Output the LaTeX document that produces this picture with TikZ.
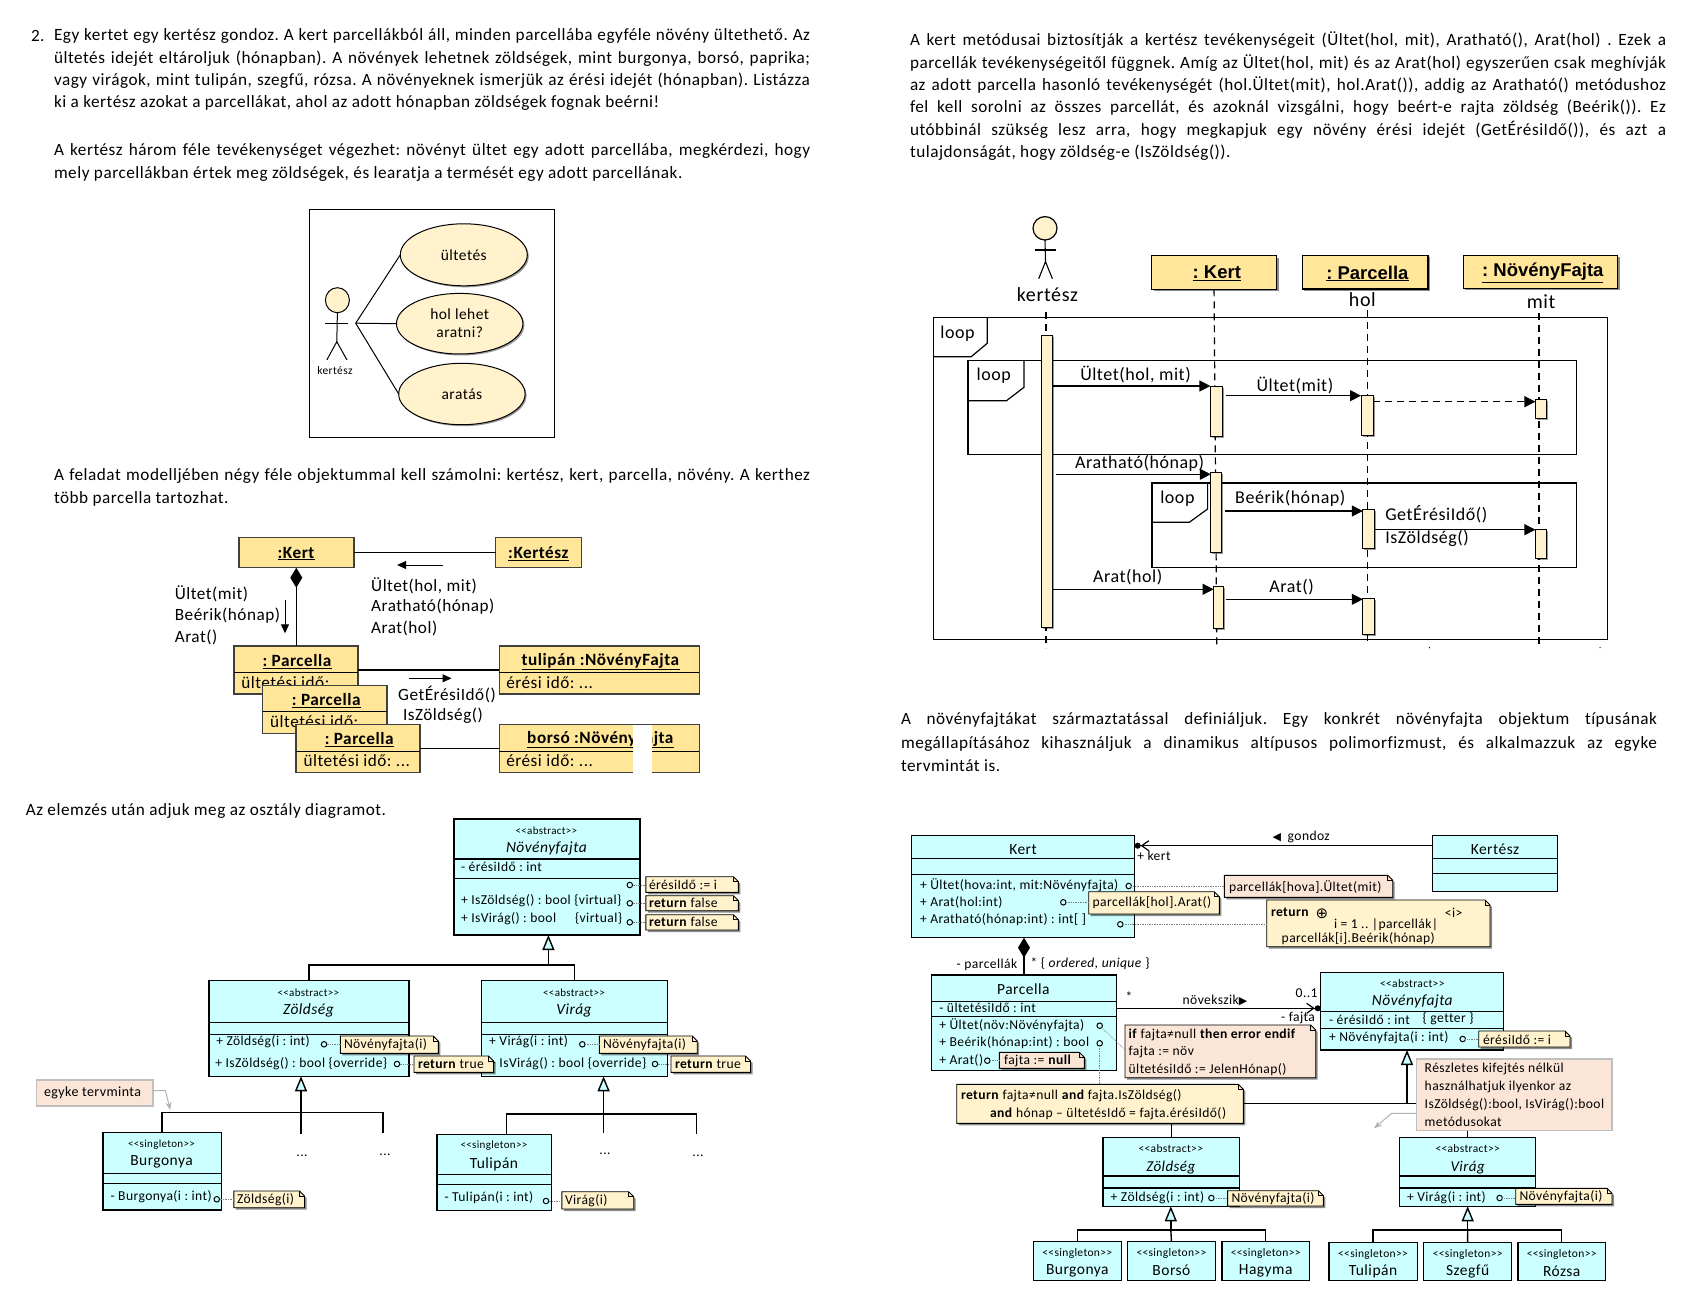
\documentclass[tikz,border=0pt]{standalone}
\usepackage{fontspec}
\setmainfont[LetterSpace=3,Ligatures=NoCommon]{Carlito}
\newfontfamily\djv{DejaVu Sans}
\newfontfamily\libs{Liberation Sans}
\frenchspacing
\usetikzlibrary{arrows.meta,shadows,shapes.geometric,calc}
\definecolor{cyanb}{HTML}{CCFFFF}
\definecolor{yel}{HTML}{FFF2CC}
\definecolor{objy}{HTML}{FFE699}
\definecolor{peach}{HTML}{FBE5D6}
\definecolor{barc}{HTML}{FFF2CC}
\newcommand\fs[1]{\fontsize{#1}{#1}\selectfont}
\newcommand\bodyfs{\fs{17.2}}
\newcommand\abstr{<{}<abstract>{}>}
\newcommand\singl{<{}<singleton>{}>}
\newcounter{tc}
\newcommand\T[4][]{\stepcounter{tc}\node[txt,anchor=west,#1] (t\thetc) at (#2,#3) {#4};}
\newcommand\C[4][]{\stepcounter{tc}\node[txt,anchor=center,#1] (t\thetc) at (#2,#3) {#4};}
\newcommand\J[4]{\stepcounter{tc}\node[txt,anchor=west,bdy] (t\thetc) at (#1,#2) {\hbox to #3pt{\spaceskip=.22em plus 1em minus .1em #4}};}
\newcommand\bx[6][cls]{\node[#1,anchor=north west,minimum width={(#4-#2)*1pt},minimum height={(#5-#3)*1pt}] (#6) at (#2,#3) {};}
\newcommand\dv[2]{\coordinate (dvtmp) at (0,#2);\draw[dvl] (#1.west |- dvtmp) -- (#1.east |- dvtmp);}
\newcommand\note[6][yel]{\path[notep,fill=#1] (#2,#3) -- (#4-5,#3) -- (#4,#3+5) -- (#4,#5) -- (#2,#5) -- cycle;
 \draw[line width=.8pt] (#4-5,#3) -- (#4-5,#3+5) -- (#4,#3+5);
 \node[inner sep=0,outer sep=0,anchor=north west,minimum width={(#4-#2)*1pt},minimum height={(#5-#3)*1pt}] (#6) at (#2,#3) {};}
\newcommand\lol[3]{\node[lolli] (#1) at (#2,#3) {};}
\newcommand\cn[2]{\draw[dotl] (#1) -- (#1 -| #2.west);}
\newcommand\msg[4][]{\coordinate (mtmp) at (0,#4);\draw[msgl,#1] (#2.east |- mtmp) -- (#3.west |- mtmp);}
\tikzset{
 txt/.style={inner sep=0,outer sep=0},
 bdy/.style={font=\bodyfs,yshift=-1pt},
 cls/.style={draw,line width=1.4pt,fill=cyanb,inner sep=0,outer sep=0},
 obj/.style={draw=black!75,line width=1.4pt,fill=objy,inner sep=0,outer sep=0},
 seqb/.style={draw,line width=1.2pt,fill=objy,inner sep=0,outer sep=0,drop shadow={shadow xshift=2pt,shadow yshift=-2pt,opacity=.45,fill=black}},
 bar/.style={draw,line width=1pt,fill=barc,inner sep=0,outer sep=0,drop shadow={shadow xshift=1.5pt,shadow yshift=-1.5pt,opacity=.4,fill=black}},
 frm/.style={draw,line width=1.2pt,inner sep=0,outer sep=0},
 dvl/.style={line width=1.3pt},
 notep/.style={draw,line width=.9pt,drop shadow={shadow xshift=2pt,shadow yshift=-2pt,opacity=.45,fill=black}},
 lolli/.style={circle,draw,line width=1pt,inner sep=0,outer sep=0,minimum size=5.5pt},
 dotl/.style={gray,densely dotted,line width=.7pt},
 ln/.style={line width=1.4pt},
 gen/.style={line width=1.4pt,-{Triangle[open,fill=cyanb,length=15pt,width=12pt]}},
 dia/.style={line width=1.4pt,{Diamond[length=20pt,width=12pt]}-},
 nav/.style={line width=1.2pt,-{Straight Barb[length=7pt,width=10pt,sep=0pt] Circle[length=6pt]}},
 msgl/.style={line width=1.2pt,-{Triangle[length=11pt,width=11pt]}},
 life/.style={line width=1.2pt,dash pattern=on 7pt off 5pt},
 grayar/.style={draw=black!30,line width=1pt,-{Stealth[length=8pt,width=6pt]}},
 simplea/.style={line width=1pt,-{Triangle[length=9pt,width=8pt]}},
 uce/.style={ellipse,draw,line width=1pt,fill=barc,inner sep=0,outer sep=0,drop shadow={shadow xshift=1.5pt,shadow yshift=-1.5pt,opacity=.4,fill=black}},
}
\begin{document}
\begin{tikzpicture}[x=1pt,y=-1pt,line join=miter]
\useasboundingbox (0,0) rectangle (1708,1313);
\fill[white] (0,0) rectangle (1708,1313);
% ---- left text
\T[bdy]{31}{35}{2.}
\J{54}{35}{756}{Egy kertet egy kertész gondoz. A kert parcellákból áll, minden parcellába egyféle növény ültethető. Az}
\J{54}{57.2}{756}{ültetés idejét eltároljuk (hónapban). A növények lehetnek zöldségek, mint burgonya, borsó, paprika;}
\J{54}{80}{756}{vagy virágok, mint tulipán, szegfű, rózsa. A növényeknek ismerjük az érési idejét (hónapban). Listázza}
\T[bdy]{54}{101.7}{ki a kertész azokat a parcellákat, ahol az adott hónapban zöldségek fognak beérni!}
\J{54}{150}{756}{A kertész három féle tevékenységet végezhet: növényt ültet egy adott parcellába, megkérdezi, hogy}
\T[bdy]{54}{172.7}{mely parcellákban értek meg zöldségek, és learatja a termését egy adott parcellának.}
\J{54}{475}{756}{A feladat modelljében négy féle objektummal kell számolni: kertész, kert, parcella, növény. A kerthez}
\T[bdy]{54}{498}{több parcella tartozhat.}
\T[bdy]{25.8}{810}{Az elemzés után adjuk meg az osztály diagramot.}
% ---- right text
\J{910}{39}{756}{A kert metódusai biztosítják a kertész tevékenységeit (Ültet(hol, mit), Aratható(), Arat(hol) . Ezek a}
\J{910}{62}{756}{parcellák tevékenységeitől függnek. Amíg az Ültet(hol, mit) és az Arat(hol) egyszerűen csak meghívják}
\J{910}{84.3}{756}{az adott parcella hasonló tevékenységét (hol.Ültet(mit), hol.Arat()), addig az Aratható() metódushoz}
\J{910}{107}{756}{fel kell sorolni az összes parcellát, és azoknál vizsgálni, hogy beért-e rajta zöldség (Beérik()). Ez}
\J{910}{129.3}{756}{utóbbinál szükség lesz arra, hogy megkapjuk egy növény érési idejét (GetÉrésiIdő()), és azt a}
\T[bdy]{910}{151.5}{tulajdonságát, hogy zöldség-e (IsZöldség()).}
\J{901}{719.5}{756}{A növényfajtákat származtatással definiáljuk. Egy konkrét növényfajta objektum típusának}
\J{901}{743}{756}{megállapításához kihasználjuk a dinamikus altípusos polimorfizmust, és alkalmazzuk az egyke}
\T[bdy]{901}{764.7}{tervmintát is.}
% ---- use case
\node[draw,line width=1pt,inner sep=0,outer sep=0,anchor=north west,minimum width=245.1pt,minimum height=228pt] (ucframe) at (309.4,209.3) {};
\coordinate (uchub) at (355.7,323.2);
\node[uce,minimum width=127pt,minimum height=62pt] (uc1) at (463.8,254.8) {};
\node[uce,minimum width=126.4pt,minimum height=60.6pt] (uc2) at (459.7,323.7) {};
\node[uce,minimum width=126.4pt,minimum height=61.4pt] (uc3) at (461.9,394) {};
\draw[line width=1pt] (uchub) -- (uc1.west);
\draw[line width=1pt] (uchub) -- (uc2.west);
\draw[line width=1pt] (uchub) -- (uc3.west);
\C[font=\fs{15.5}]{463.8}{255}{ültetés}
\C[font=\fs{15.5},align=center]{459.7}{323}{hol lehet\\[3pt]aratni?}
\C[font=\fs{15.5}]{461.9}{394}{aratás}
\node[ellipse,draw,line width=1pt,fill=barc,minimum width=24pt,minimum height=25pt,inner sep=0,outer sep=0] (ua) at (337.4,300.2) {};
\coordinate (uab) at (336.8,341.7);
\draw[line width=1pt] (ua.south) -- (uab);
\coordinate (ua1) at (325,323.3);\coordinate (ua2) at (347.5,323.3);
\draw[line width=1pt] (ua1) -- (ua2);
\coordinate (ua3) at (326.8,360);\coordinate (ua4) at (347,360);
\draw[line width=1pt] (ua3) -- (uab) -- (ua4);
\C[font=\fs{11.5}]{335}{371}{kertész}
% ---- object diagram
\begin{scope}[txt/.append style={font=\fs{17.2}}]
\bx[obj]{238.8}{537.7}{353.8}{567.7}{okert}
\bx[obj]{495.5}{537.7}{581.7}{567.7}{okertesz}
\draw[ln] (okert) -- (okertesz);
\C{296.3}{553.5}{\underline{\textbf{:Kert}}}
\C{538.6}{553.5}{\underline{\textbf{:Kertész}}}
\coordinate (oa1) at (443.4,565);\coordinate (oa2) at (397.1,565);
\draw[simplea] (oa1) -- (oa2);
\T{371.2}{585.3}{Ültet(hol, mit)}
\T{371.2}{607}{Aratható(hónap)}
\T{371.2}{628.3}{Arat(hol)}
\T{174.8}{594}{Ültet(mit)}
\T{174.8}{615.7}{Beérik(hónap)}
\T{174.8}{637.3}{Arat()}
\coordinate (oa3) at (285,600);\coordinate (oa4) at (285,633.3);
\draw[simplea] (oa3) -- (oa4);
\bx[obj]{234}{646}{357.9}{694}{op1}
\draw[dia] (okert.south) -- (okert.south |- op1.north);
\dv{op1}{672.7}
\C{297.2}{661.5}{\underline{\textbf{: Parcella}}}
\T{241.4}{682.3}{ültetési idő: ...}
\bx[obj]{262.5}{685.3}{387.1}{733.3}{op2}
\dv{op2}{711.7}
\C{326.5}{700.5}{\underline{\textbf{: Parcella}}}
\T{270.2}{721.7}{ültetési idő: ...}
\bx[obj]{296.1}{724.7}{420}{772.3}{op3}
\dv{op3}{751.3}
\C{359.4}{739.8}{\underline{\textbf{: Parcella}}}
\T{303.5}{760.7}{ültetési idő: ...}
\bx[obj]{499.2}{646}{699.4}{694}{otul}
\dv{otul}{672.7}
\C{600.6}{661.5}{\underline{\textbf{tulipán :NövényFajta}}}
\T{506.3}{682.7}{érési idő: ...}
\bx[obj]{499.2}{724.7}{699.4}{772.7}{obor}
\dv{obor}{751.7}
\C{600.6}{739.8}{\underline{\textbf{borsó :NövényFajta}}}
\T{506.3}{760.7}{érési idő: ...}
\coordinate (ol1) at (0,670);\coordinate (ol2) at (0,748.3);
\draw[ln] (op1.east |- ol1) -- (otul.west |- ol1);
\draw[ln] (op3.east |- ol2) -- (obor.west |- ol2);
\coordinate (oa5) at (409,678.3);\coordinate (oa6) at (451.5,678.3);
\draw[simplea] (oa5) -- (oa6);
\T{398.2}{694.3}{GetÉrésiIdő()}
\T{403}{716}{IsZöldség()}
\node[fill=white,inner sep=0,outer sep=0,anchor=north west,minimum width=19.2pt,minimum height=49pt] (owhite) at (633.2,724.7) {};
\end{scope}
% ---- left class diagram
\begin{scope}[txt/.append style={font=\fs{13.6}}]
\bx{453.8}{819}{640}{935}{ln}
\dv{ln}{859}\dv{ln}{878.3}
\C[font=\fs{11}]{546.4}{830.7}{\abstr}
\C[font=\fs{15.5}\itshape]{546.4}{848.3}{Növényfajta}
\T{461}{867.3}{- érésiIdő : int}
\T{461}{901}{+ IsZöldség() : bool \{virtual\}}
\T{461}{919}{+ IsVirág() : bool}
\T{575}{919}{\{virtual\}}
\lol{lc1}{629.8}{885}\lol{lc2}{629.8}{903.3}\lol{lc3}{629.8}{922.3}
\note{645.8}{876.7}{738.4}{892.3}{ln1}
\note{645.8}{895.7}{738.4}{910.7}{ln2}
\note{645.8}{914.7}{738.4}{930}{ln3}
\cn{lc1}{ln1}\cn{lc2}{ln2}\cn{lc3}{ln3}
\T{649}{885}{érésiIdő := i}
\T{649}{903.3}{\textbf{return} false}
\T{649}{922.3}{\textbf{return} false}
\bx{209}{980.7}{408.8}{1076.3}{lz}
\dv{lz}{1022.7}\dv{lz}{1034.3}
\C[font=\fs{11}]{308.4}{992.3}{\abstr}
\C[font=\fs{15.5}\itshape]{308.4}{1010.7}{Zöldség}
\T{216.3}{1041.7}{+ Zöldség(i : int)}
\T{215.3}{1064}{+ IsZöldség() : bool \{override\}}
\lol{lc4}{324}{1044.3}\lol{lc5}{397}{1064}
\bx{481.5}{980.7}{667.6}{1076.3}{lv}
\dv{lv}{1022.7}\dv{lv}{1034.3}
\C[font=\fs{11}]{574}{992.3}{\abstr}
\C[font=\fs{15.5}\itshape]{574}{1010.7}{Virág}
\T{489.2}{1041.7}{+ Virág(i : int)}
\T{489.2}{1064}{+ IsVirág() : bool \{override\}}
\lol{lc6}{582.3}{1044.3}\lol{lc7}{655}{1064}
\coordinate (lj1) at (548.4,965);
\draw[ln] (lz.north) |- (lj1) -| (lv.north);
\draw[gen] (lj1) -- (lj1 |- ln.south);
\note{340.4}{1036}{438.3}{1053.3}{ln4}
\note{414}{1056}{493.6}{1072.3}{ln5}
\note{599.3}{1036}{697.2}{1053.3}{ln6}
\note{671}{1056}{750.5}{1072.3}{ln7}
\cn{lc4}{ln4}\cn{lc5}{ln5}\cn{lc6}{ln6}\cn{lc7}{ln7}
\T{344}{1045}{Növényfajta(i)}
\T{418}{1064.5}{\textbf{return} true}
\T{603}{1045}{Növényfajta(i)}
\T{675}{1064.5}{\textbf{return} true}
% singleton branch left
\bx{102.9}{1132.7}{221.2}{1210}{lb}
\dv{lb}{1173.3}\dv{lb}{1183.3}
\C[font=\fs{11}]{161.5}{1145}{\singl}
\C[font=\fs{15.5}]{161.5}{1162.3}{Burgonya}
\T{110.6}{1196.7}{- Burgonya(i : int)}
\lol{lc8}{216.8}{1199.3}
\note{233.8}{1191}{304.5}{1207.7}{ln8}
\cn{lc8}{ln8}
\T{237}{1199.5}{Zöldség(i)}
\coordinate (lj2) at (301,1112.3);
\coordinate (lz1) at (301,1134);\coordinate (lz2) at (383,1132.7);
\draw[ln] (lb.north) |- (lj2) -| (lz2);
\draw[ln] (lj2) -- (lz1);
\draw[gen] (lj2) -- (lj2 |- lz.south);
\C{302}{1156}{...}
\C{385}{1154.5}{...}
\bx{436.9}{1134.3}{551.3}{1210.7}{lt}
\dv{lt}{1174.7}\dv{lt}{1184.3}
\C[font=\fs{11}]{494}{1145.7}{\singl}
\C[font=\fs{15.5}]{494}{1164}{Tulipán}
\T{444.6}{1197.3}{- Tulipán(i : int)}
\lol{lc9}{546}{1201}
\note{561.9}{1191.7}{633.7}{1209}{ln9}
\cn{lc9}{ln9}
\T{565}{1201}{Virág(i)}
\coordinate (lj3) at (603.6,1114);
\coordinate (lv1) at (603.6,1132.7);\coordinate (lv2) at (696.7,1134.3);\coordinate (lv3) at (506.7,1134.3);
\draw[ln] (lv3) |- (lj3) -| (lv2);
\draw[ln] (lj3) -- (lv1);
\draw[gen] (lj3) -- (lj3 |- lv.south);
\C{605}{1154}{...}
\C{698}{1155.5}{...}
\node[draw=black!25,line width=1.5pt,fill=peach,inner sep=0,outer sep=0,anchor=north west,minimum width=116.3pt,minimum height=26pt] (legyke) at (36.5,1080) {};
\T[font=\fs{14}]{44}{1093.3}{egyke tervminta}
\coordinate (lg1) at (165.4,1090.7);\coordinate (lg2) at (170.3,1110);
\draw[grayar] (legyke.east |- lg1) -- (lg1) -- (lg2);
\end{scope}
% ---- sequence diagram
\begin{scope}[txt/.append style={font=\fs{18}}]
\node[ellipse,draw,line width=1.2pt,fill=barc,minimum width=24pt,minimum height=23.4pt,inner sep=0,outer sep=0] (sa) at (1045,228.3) {};
\coordinate (sab) at (1045.5,261.7);
\draw[line width=1.1pt] (sa.south) -- (sab);
\coordinate (sa1) at (1034.5,250);\coordinate (sa2) at (1055.6,250);
\draw[line width=1.1pt] (sa1) -- (sa2);
\coordinate (sa3) at (1038.7,278.7);\coordinate (sa4) at (1052.4,278.7);
\draw[line width=1.1pt] (sa3) -- (sab) -- (sa4);
\C[font=\fs{20}]{1047.4}{294.5}{kertész}
\bx[seqb]{1151.6}{255.7}{1276.5}{289.3}{sk}
\bx[seqb]{1302.2}{255.3}{1428}{289}{sp}
\bx[seqb]{1463.4}{255.3}{1617.6}{288.3}{sn}
\C[font=\libs\bfseries\fs{18.5}]{1216.8}{273.5}{\underline{: Kert}}
\C[font=\libs\bfseries\fs{18.5}]{1367.4}{273.5}{\underline{: Parcella}}
\C[font=\libs\bfseries\fs{18.5}]{1542.8}{273}{\underline{: NövényFajta}}
\C[font=\fs{20}]{1362.4}{299.5}{hol}
\C[font=\fs{20}]{1541}{302}{mit}
\coordinate (s1t) at (1046,312);\coordinate (s1b) at (1046,648);
\coordinate (s2b) at (1216.8,645);
\coordinate (s3t) at (1367.4,310);\coordinate (s3b) at (1367.4,645);
\coordinate (s4t) at (1539,313);\coordinate (s4b) at (1539,645);
\draw[life] (s1t) -- (s1b);
\draw[life] (sk.south) -- (s2b);
\draw[life] (s3t) -- (s3b);
\draw[life] (s4t) -- (s4b);
\fill (1429.4,647.7) circle (.7pt);
\fill (1600,647.7) circle (.7pt);
% frames
\bx[frm]{933.5}{317.7}{1607.5}{639.3}{f1}
\bx[frm]{968}{360.7}{1576.8}{454.7}{f2}
\bx[frm]{1152}{483}{1576.3}{567.7}{f3}
\draw[line width=1.2pt] (933.5,356.7) -- (971.2,356.7) -- (987.2,343.3) -- (987.2,317.7);
\draw[line width=1.2pt] (968,400.7) -- (1006.5,400.7) -- (1024,387.3) -- (1024,360.7);
\draw[line width=1.2pt] (1152,522.3) -- (1189.3,522.3) -- (1207.6,509) -- (1207.6,483);
\T{940.4}{333.3}{loop}
\T{976.7}{376}{loop}
\T{1160.3}{498.3}{loop}
% bars
\bx[bar]{1041}{336}{1052.4}{627.7}{b0}
\bx[bar]{1210.4}{386.3}{1222.8}{436}{b1}
\bx[bar]{1361}{396}{1373.4}{435.7}{b2}
\bx[bar]{1535.4}{400}{1546}{418.3}{b3}
\bx[bar]{1210.8}{472}{1221.4}{552}{b4}
\bx[bar]{1362.8}{509}{1374.7}{548}{b5}
\bx[bar]{1535.4}{529.7}{1546}{558.3}{b6}
\bx[bar]{1213.6}{586.7}{1223.7}{628.3}{b7}
\bx[bar]{1362.8}{598.7}{1374.7}{634}{b8}
\msg{b0}{b1}{386}
\msg[shorten <=3pt]{b1}{b2}{395.7}
\msg[dash pattern=on 7pt off 5pt]{b2}{b3}{401.7}
\msg[shorten <=4pt]{b0}{b4}{474.3}
\msg[shorten <=4pt]{b4}{b5}{511}
\msg{b5}{b6}{529.7}
\msg{b0}{b7}{589.3}
\msg[shorten <=2pt]{b7}{b8}{599.3}
\C{1135.5}{375}{Ültet(hol, mit)}
\C{1294.9}{385.3}{Ültet(mit)}
\C{1139.7}{463.3}{Aratható(hónap)}
\C{1290.3}{498.3}{Beérik(hónap)}
\T{1385.3}{514.3}{GetÉrésiIdő()}
\T{1385.3}{538.3}{IsZöldség()}
\C{1127.7}{576.7}{Arat(hol)}
\C{1291.6}{586.7}{Arat()}
\end{scope}
% ---- right class diagram
\begin{scope}[txt/.append style={font=\fs{13.6}}]
\bx{911.7}{835.7}{1134.7}{937.7}{rk}
\dv{rk}{858.3}\dv{rk}{874.3}
\C[font=\fs{15.5}]{1023}{849.3}{Kert}
\T{920}{885}{+ Ültet(hova:int, mit:Növényfajta)}
\T{920}{902.3}{+ Arat(hol:int)}
\T{920}{920}{+ Aratható(hónap:int) : int[ ]}
\lol{rc1}{1128.7}{886}\lol{rc2}{1063.3}{902.3}\lol{rc3}{1120.3}{924.3}
\bx{1432.7}{835.7}{1557.7}{891.7}{rt}
\dv{rt}{858.3}\dv{rt}{873.3}
\C[font=\fs{15.5}]{1495}{849.3}{Kertész}
\coordinate (rg) at (0,845.7);
\draw[nav] (rt.west |- rg) -- (rk.east |- rg);
\T{1137.3}{856}{+ kert}
\T[font=\djv\fs{11}]{1272.5}{837.3}{◀}
\T{1287.7}{836.7}{gondoz}
\bx{931.7}{975}{1116.3}{1070.7}{rp}
\dv{rp}{1001.7}\dv{rp}{1016.7}
\draw[dia] (rk.south -| rp.north) -- (rp.north);
\C[font=\fs{15.5}]{1023.3}{989}{Parcella}
\T{939.3}{1007.7}{- ültetésiIdő : int}
\T{939.3}{1025.7}{+ Ültet(növ:Növényfajta)}
\T{939.3}{1042.7}{+ Beérik(hónap:int)  : bool}
\T{939.3}{1060}{+ Arat()}
\T[anchor=east]{1017.3}{965}{- parcellák}
\T{1030.7}{963.3}{* \{ \textit{ordered, unique} \}}
\lol{rc4}{1099.7}{1025.7}\lol{rc5}{1099.7}{1043.3}\lol{rc6}{987.3}{1060.7}
\bx{1320.7}{972.7}{1503.7}{1050}{rn}
\dv{rn}{1011.3}\dv{rn}{1028.3}
\C[font=\fs{11.5}]{1412.3}{984}{\abstr}
\C[font=\fs{15.5}\itshape]{1412.3}{1001.7}{Növényfajta}
\T{1329}{1020}{- érésiIdő : int}
\T{1422.7}{1019}{\{ getter \}}
\T{1329}{1037.3}{+ Növényfajta(i : int)}
\lol{rc7}{1462.7}{1039}
\coordinate (ra) at (0,1008.3);
\draw[nav] (rp.east |- ra) -- (rn.west |- ra);
\T{1125.7}{996.5}{*}
\T{1182.7}{1000}{növekszik{\djv\fs{11}▶}}
\T{1295.7}{993.3}{0..1}
\T[anchor=east]{1315}{1017.7}{- fajta}
\bx{1102.8}{1137.7}{1239.6}{1206.3}{rz}
\dv{rz}{1176}\dv{rz}{1188}
\C[font=\fs{11.5}]{1170.8}{1149}{\abstr}
\C[font=\fs{15}\itshape]{1170.8}{1167.3}{Zöldség}
\T{1110.7}{1197.3}{+ Zöldség(i : int)}
\lol{rc8}{1211.4}{1198}
\bx{1399.7}{1137.7}{1535.7}{1206.3}{rv}
\dv{rv}{1176}\dv{rv}{1188}
\C[font=\fs{11.5}]{1467.7}{1149}{\abstr}
\C[font=\fs{15}\itshape]{1467.7}{1167.3}{Virág}
\T{1407}{1197.3}{+ Virág(i : int)}
\lol{rc9}{1499.6}{1198}
% singletons
\bx{1033.2}{1241.3}{1121.5}{1280.7}{s1}
\bx{1127.3}{1241.3}{1215.6}{1280.7}{s2}
\bx{1221.8}{1241.3}{1309.7}{1280.7}{s3}
\bx{1328.8}{1242.3}{1417.5}{1280.7}{s4}
\bx{1423.7}{1242.3}{1511.6}{1280.7}{s5}
\bx{1517.8}{1242.3}{1605.7}{1280.7}{s6}
\C[font=\fs{11.5}]{1077.3}{1253.3}{\singl}
\C[font=\fs{11.5}]{1171.4}{1253.3}{\singl}
\C[font=\fs{11.5}]{1265.7}{1253.3}{\singl}
\C[font=\fs{11.5}]{1373}{1254}{\singl}
\C[font=\fs{11.5}]{1467.7}{1254}{\singl}
\C[font=\fs{11.5}]{1561.7}{1254}{\singl}
\C[font=\fs{15.5}]{1077.3}{1270.7}{Burgonya}
\C[font=\fs{15.5}]{1171.4}{1270.7}{Borsó}
\C[font=\fs{15.5}]{1265.7}{1270.7}{Hagyma}
\C[font=\fs{15.5}]{1373}{1271.5}{Tulipán}
\C[font=\fs{15.5}]{1467.7}{1271.5}{Szegfű}
\C[font=\fs{15.5}]{1561.7}{1271.5}{Rózsa}
\coordinate (rj1) at (1170.8,1230);\coordinate (rj2) at (1467.7,1230);
\draw[ln] (s1.north) |- (rj1) -| (s3.north);
\draw[ln] (s2.north) -- (rj1);
\draw[gen] (rj1) -- (rj1 |- rz.south);
\draw[ln] (s4.north) |- (rj2) -| (s6.north);
\draw[ln] (s5.north) -- (rj2);
\draw[gen] (rj2) -- (rj2 |- rv.south);
% notes
\coordinate (rj3) at (1407,1103.3);
\coordinate (rj4) at (1243.3,1103.3);\coordinate (rj5) at (1416.3,1103.3);
\draw[ln] (rj4) -- (rj3);
\draw[ln] (rj3) -- (rj5);
\draw[gen] (rj3) -- (rj3 |- rn.south);
\draw[ln] (rz.north) -- ++(0,-20);
\draw[ln] (rv.north) -- ++(0,-12);
\note[peach]{1224.3}{875.3}{1392.7}{897.3}{rn1}
\note{1088.7}{891.7}{1219.3}{914}{rn2}
\note{1266.7}{900}{1490}{946.7}{rn3}
\cn{rc1}{rn1}\cn{rc2}{rn2}\cn{rc3}{rn3}
\T{1229}{886.7}{parcellák[hova].Ültet(mit)}
\T{1092.7}{903}{parcellák[hol].Arat()}
\T{1271}{912.7}{\textbf{return}}
\T[font=\djv\fs{15}]{1315.5}{913.7}{⊕}
\C{1453.7}{912.7}{<{}i>}
\T{1334}{924.3}{i = 1 .. |parcellák|}
\T{1281.7}{939}{parcellák[i].Beérik(hónap)}
\note[peach]{999.3}{1052.3}{1084.3}{1068.3}{rn4}
\cn{rc6}{rn4}
\T{1004}{1060.5}{fajta := \textbf{null}}
\note[peach]{1125}{1025}{1315.7}{1077.7}{rn5}
\coordinate (rd1) at (0,1050);
\draw[dotl] (rc4) -- (rn5.west |- rd1);
\T{1128.7}{1035}{\textbf{if} fajta≠null \textbf{then error endif}}
\T{1128.7}{1052.3}{fajta := növ}
\T{1128.7}{1070}{ültetésiIdő := JelenHónap()}
\note{956.7}{1084.3}{1243.3}{1123.3}{rn6}
\draw[dotl] (rc5) -- (rc5 |- rn6.north);
\T{961}{1096}{\textbf{return} fajta≠null \textbf{and} fajta.IsZöldség()}
\T{990}{1113.3}{\textbf{and} hónap – ültetésIdő =  fajta.érésiIdő()}
\note{1478.7}{1031}{1570}{1047}{rn7}
\cn{rc7}{rn7}
\T{1483}{1039.5}{érésiIdő := i}
\note{1227.6}{1190.7}{1323.4}{1206}{rn8}
\cn{rc8}{rn8}
\T{1231.5}{1198.5}{Növényfajta(i)}
\note{1515.7}{1188.3}{1612}{1204.3}{rn9}
\cn{rc9}{rn9}
\T{1519.5}{1196.5}{Növényfajta(i)}
\node[draw=black!25,line width=1.5pt,fill=peach,inner sep=0,outer sep=0,anchor=north west,minimum width=195.7pt,minimum height=71.7pt] (rr) at (1416.3,1059) {};
\T{1424.7}{1069.3}{Részletes kifejtés nélkül}
\T{1424.7}{1086.7}{használhatjuk ilyenkor az}
\T{1424.7}{1104.3}{IsZöldség():bool, IsVirág():bool}
\T{1424.7}{1121.7}{metódusokat}
\coordinate (rg1) at (1391.7,1113.3);\coordinate (rg2) at (1374,1128.3);
\draw[grayar] (rr.west |- rg1) -- (rg1) -- (rg2);
\end{scope}
\end{tikzpicture}
\end{document}
